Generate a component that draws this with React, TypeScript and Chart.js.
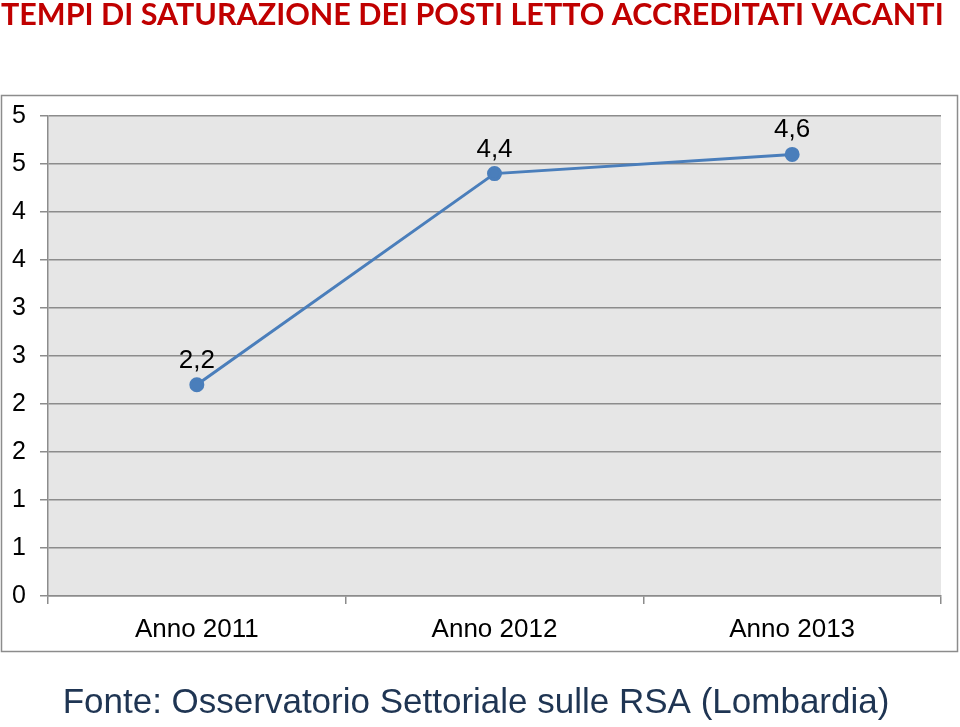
import React, { useEffect, useRef } from "react";
import { Chart, registerables } from "chart.js";

Chart.register(...registerables);

const TITLE = "TEMPI DI SATURAZIONE DEI POSTI LETTO ACCREDITATI VACANTI";
const FOOTER = "Fonte: Osservatorio Settoriale sulle RSA (Lombardia)";
const categories = ["Anno 2011", "Anno 2012", "Anno 2013"];
const values = [2.2, 4.4, 4.6];
const valueLabels = ["2,2", "4,4", "4,6"];
const yMin = 0;
const yMax = 5;
const yStep = 0.5;

const decorPlugin = {
  id: "decor",
  beforeDraw(chart: any) {
    const ctx = chart.ctx;
    ctx.save();
    ctx.fillStyle = "#ffffff";
    ctx.fillRect(0, 0, chart.width, chart.height);
    ctx.strokeStyle = "#8c8c8c";
    ctx.lineWidth = 1.5;
    ctx.strokeRect(1.5, 95.5, 956, 556);
    const a = chart.chartArea;
    ctx.fillStyle = "#e6e6e6";
    ctx.fillRect(a.left, a.top, a.right - a.left, a.bottom - a.top);
    ctx.restore();
  },
  afterDraw(chart: any) {
    const ctx = chart.ctx;
    ctx.save();
    ctx.fillStyle = "#c00000";
    ctx.font = "bold 30.5px Lato, 'Noto Sans', sans-serif";
    ctx.textAlign = "left";
    ctx.textBaseline = "alphabetic";
    ctx.fillText(TITLE, 1, 25);
    ctx.fillStyle = "#1f3553";
    ctx.font = "35px 'Liberation Sans', Arial, sans-serif";
    ctx.textAlign = "center";
    ctx.fillText(FOOTER, 476, 713);
    const meta = chart.getDatasetMeta(0);
    ctx.fillStyle = "#000000";
    ctx.font = "26px 'Liberation Sans', Arial, sans-serif";
    ctx.textAlign = "center";
    ctx.textBaseline = "alphabetic";
    meta.data.forEach((pt: any, i: number) => {
      ctx.fillText(valueLabels[i], pt.x, pt.y - 17);
    });
    ctx.restore();
  },
};

export default function App() {
  const ref = useRef<HTMLCanvasElement | null>(null);
  useEffect(() => {
    if (!ref.current) return;
    const chart = new Chart(ref.current, {
      type: "line",
      data: {
        labels: categories,
        datasets: [
          {
            data: values,
            borderColor: "#4a7ebb",
            backgroundColor: "#4a7ebb",
            borderWidth: 3,
            pointRadius: 6,
            pointBackgroundColor: "#4a7ebb",
            pointBorderColor: "#4a7ebb",
            tension: 0,
          },
        ],
      },
      options: {
        responsive: false,
        animation: false,
        devicePixelRatio: 1,
        layout: { padding: { top: 116, right: 19, bottom: 71, left: 0 } },
        plugins: {
          legend: { display: false },
          tooltip: { enabled: false },
          title: { display: false },
        },
        scales: {
          x: {
            type: "category",
            offset: true,
            grid: {
              offset: true,
              drawOnChartArea: false,
              drawTicks: true,
              tickLength: 8,
              color: "#8c8c8c",
              lineWidth: 1.5,
            },
            border: { display: true, color: "#8c8c8c", width: 1.5 },
            ticks: {
              color: "#000000",
              font: { family: "'Liberation Sans', Arial, sans-serif", size: 26 },
              padding: 10,
              maxRotation: 0,
            },
            afterFit(scale: any) {
              scale.height = 60;
            },
          },
          y: {
            min: yMin,
            max: yMax,
            grid: {
              color: "#8c8c8c",
              lineWidth: 1.5,
              drawTicks: true,
              tickLength: 8,
            },
            border: { display: true, color: "#8c8c8c", width: 1.5 },
            ticks: {
              stepSize: yStep,
              color: "#000000",
              font: { family: "'Liberation Sans', Arial, sans-serif", size: 25 },
              padding: 14,
              callback: (v: any) => String(Math.round(Number(v))),
            },
            afterFit(scale: any) {
              scale.width = 48;
            },
          },
        },
      },
      plugins: [decorPlugin],
    });
    return () => chart.destroy();
  }, []);
  return (
    <canvas
      ref={ref}
      width={960}
      height={727}
      style={{ position: "absolute", left: 0, top: 0, width: 960, height: 727 }}
    />
  );
}
